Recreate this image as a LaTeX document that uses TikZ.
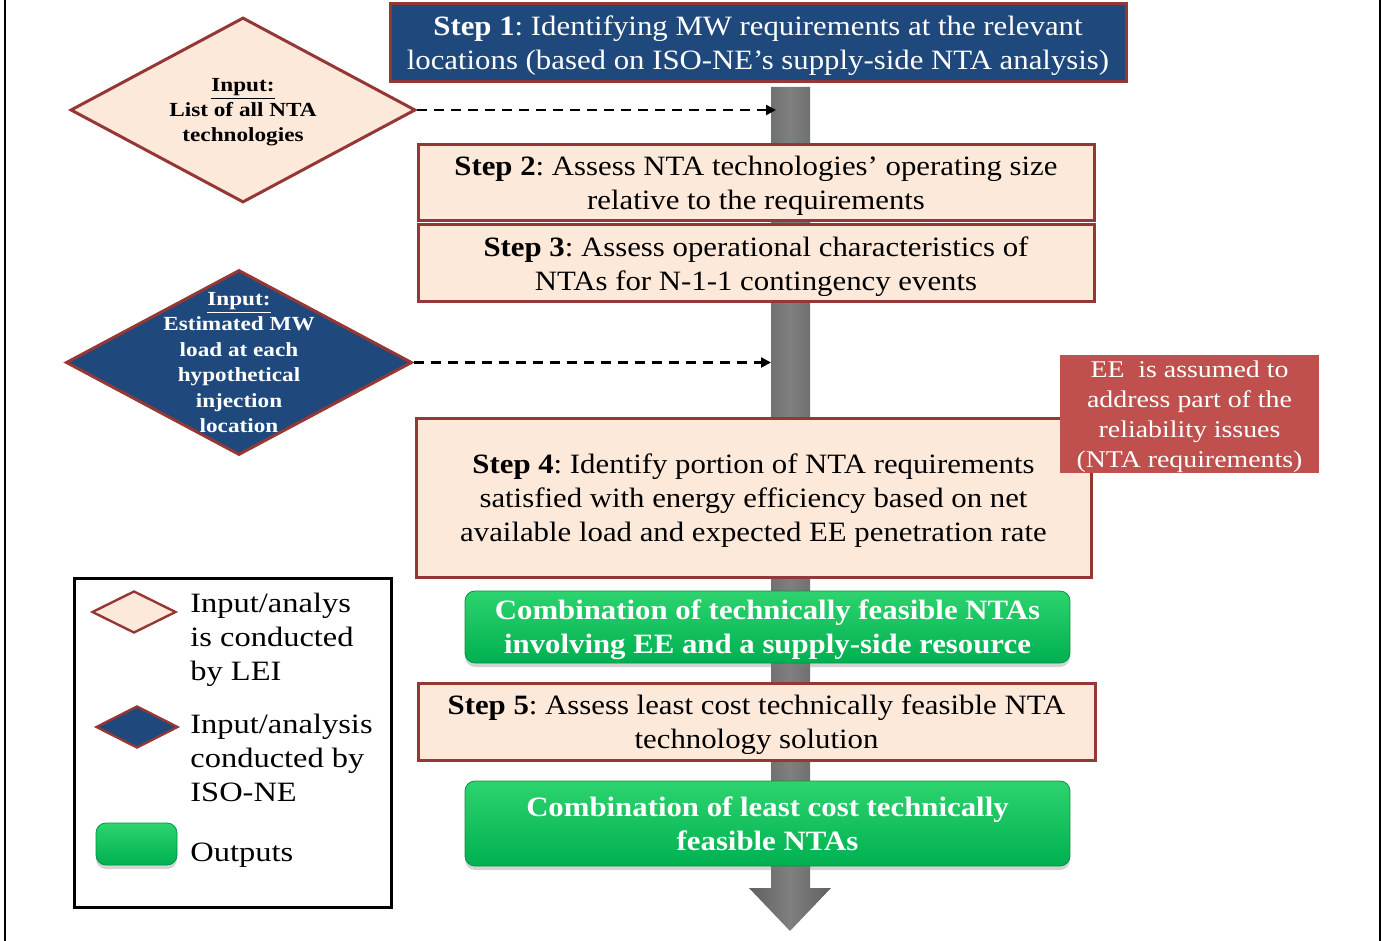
\documentclass[tikz,border=0pt]{standalone}
\usepackage{fontspec}
\setmainfont{Liberation Serif}[FakeStretch=1.16]
\newfontfamily\stepfont{Liberation Serif}[FakeStretch=1.1]
\usetikzlibrary{shapes.geometric,arrows.meta,shadows}
\definecolor{peach}{HTML}{FDE9D9}
\definecolor{navy}{HTML}{1F497D}
\definecolor{brick}{HTML}{953735}
\definecolor{eered}{HTML}{C0504D}
\definecolor{outgreen}{HTML}{00B050}
\definecolor{outgreenhi}{HTML}{2DD46E}
\frenchspacing

\begin{document}
\begin{tikzpicture}[x=0.5pt,y=-0.5pt,
  stepbox/.style={draw=brick,line width=1.5pt,fill=peach,align=center,inner sep=0pt,text depth=0pt,font=\stepfont\fontsize{14}{17}\selectfont},
  outbox/.style={rounded corners=5pt,top color=outgreenhi,bottom color=outgreen,draw=outgreen!85!black,line width=0.4pt,text=white,align=center,inner sep=0pt,text depth=0pt,font=\stepfont\fontsize{14}{17}\selectfont\bfseries,drop shadow={opacity=0.35,shadow xshift=0pt,shadow yshift=-2pt}},
  inputdia/.style={diamond,draw=brick,line width=1.5pt,inner sep=0pt},
  diatext/.style={align=center,text depth=0pt,font=\fontsize{10}{12.7}\selectfont\bfseries},
  feed/.style={dash pattern=on 5pt off 3.5pt,line width=1.2pt,-{Triangle[length=5pt,width=5pt]}},
  legtext/.style={anchor=west,align=left,inner sep=0pt,font=\fontsize{14}{17}\selectfont}]
  \useasboundingbox (0,0) rectangle (1383,941);
  \draw[line width=1.2pt] (5,0) -- (5,941) (1380,0) -- (1380,941);
  % grey flow arrow behind the steps
  \shade[left color=gray!75!black,right color=gray!75!black,middle color=gray] (771,87) -- (810,87) -- (810,888) -- (831,888) -- (790,931) -- (749,888) -- (771,888) -- cycle;
  \node[stepbox,fill=navy,text=white,minimum width=368pt,minimum height=39pt] (s1) at (758,43) {\textbf{Step 1}: Identifying MW requirements at the relevant\\locations (based on ISO-NE’s supply-side NTA analysis)};
  \node[stepbox,minimum width=338pt,minimum height=38pt] (s2) at (756,183) {\textbf{Step 2}: Assess NTA technologies’ operating size\\relative to the requirements};
  \node[stepbox,minimum width=338pt,minimum height=38.5pt] (s3) at (756,263.5) {\textbf{Step 3}: Assess operational characteristics of\\NTAs for N-1-1 contingency events};
  \node[stepbox,minimum width=337.5pt,minimum height=79pt] (s4) at (753.5,498) {\textbf{Step 4}: Identify portion of NTA requirements\\satisfied with energy efficiency based on net\\available load and expected EE penetration rate};
  \node[fill=eered,text=white,align=center,inner sep=0pt,text depth=0pt,minimum width=129.5pt,minimum height=59pt,font=\fontsize{12}{15}\selectfont] (ee) at (1189.5,414) {EE\ \ is assumed to\\address part of the\\reliability issues\\(NTA requirements)};
  \node[outbox,minimum width=302.5pt,minimum height=36pt] (o1) at (767.5,627) {Combination of technically feasible NTAs\\involving EE and a supply-side resource};
  \node[stepbox,minimum width=338.5pt,minimum height=38.5pt] (s5) at (756.5,721.5) {\textbf{Step 5}: Assess least cost technically feasible NTA\\technology solution};
  \node[outbox,minimum width=302.5pt,minimum height=42.5pt] (o2) at (767.5,823.5) {Combination of least cost technically\\feasible NTAs};
  % inputs
  \node[inputdia,fill=peach,minimum width=172.5pt,minimum height=92.5pt] (in1) at (243,110) {};
  \node[diatext] at (in1) {\underline{Input:}\\List of all NTA\\technologies};
  \node[inputdia,fill=navy,minimum width=173pt,minimum height=92.5pt] (in2) at (239,362.5) {};
  \node[diatext,text=white] at (in2) {\underline{Input:}\\Estimated MW\\load at each\\hypothetical\\injection\\location};
  \coordinate (hit1) at (776,110);
  \coordinate (hit2) at (771,362.5);
  \draw[feed] (in1.east) -- (hit1);
  \draw[feed] (in2.east) -- (hit2);
  % legend
  \node[draw,line width=1.5pt,minimum width=158.5pt,minimum height=164.5pt] (legend) at (232.5,742.5) {};
  \node[inputdia,fill=peach,line width=1.2pt,minimum width=42pt,minimum height=21pt] (kpeach) at (134,612) {};
  \node[legtext] at (190,640) {Input/analys\\is conducted\\by LEI};
  \node[inputdia,fill=navy,line width=1.2pt,minimum width=41pt,minimum height=21pt] (knavy) at (137,727) {};
  \node[legtext] at (190,758) {Input/analysis\\conducted by\\ISO-NE};
  \node[outbox,minimum width=40.5pt,minimum height=21pt] (kout) at (136.5,844) {};
  \node[legtext] at (190,855) {Outputs};
\end{tikzpicture}
\end{document}
